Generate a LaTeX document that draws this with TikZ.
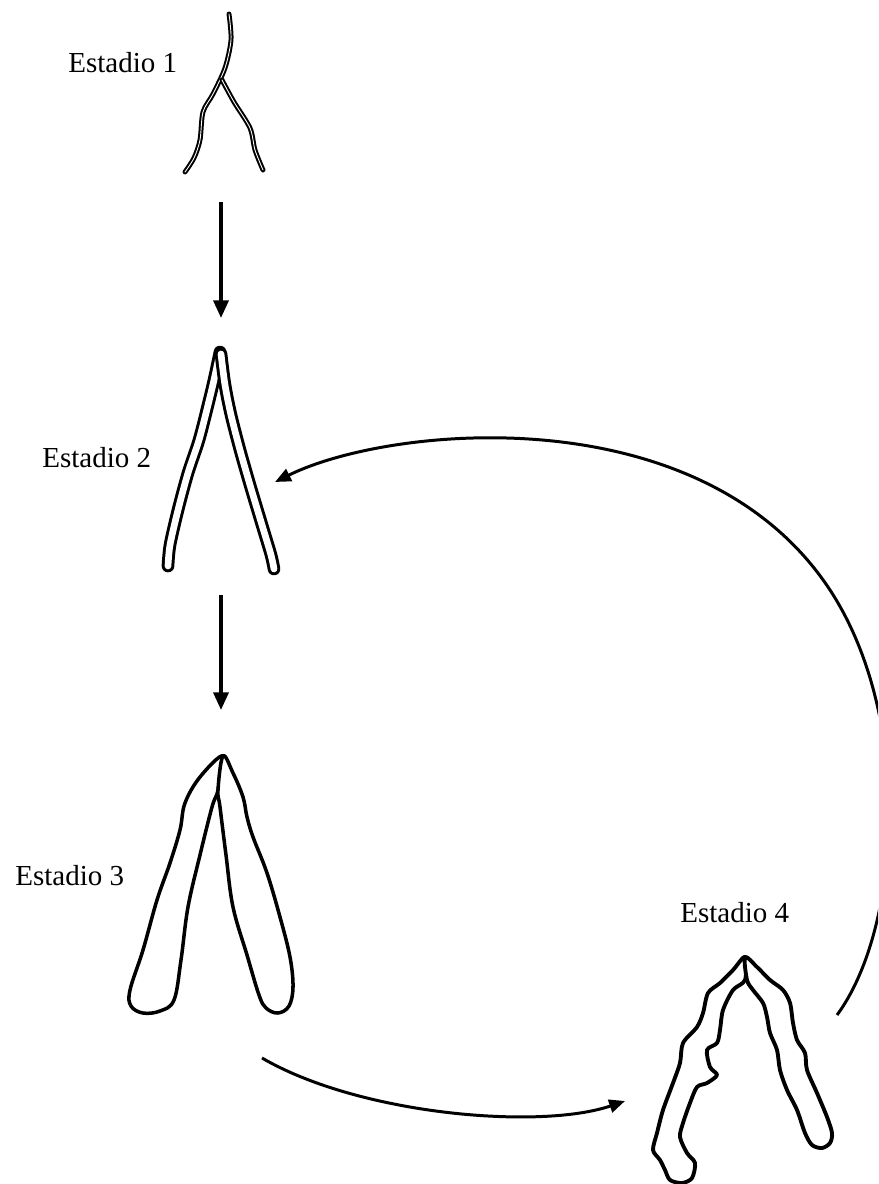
\documentclass[tikz,border=0pt]{standalone}
\usepackage{fontspec}
\setmainfont{Liberation Serif}
\usetikzlibrary{arrows,arrows.meta}

\tikzset{
  stage label/.style={font=\fontsize{16.5}{19}\selectfont, inner sep=0pt, anchor=base west},
  thin tube/.style={draw=black, line width=1.15pt, double=white, double distance=0.5pt, line cap=round, line join=round},
  tube/.style={draw=black, line width=1.7pt, double=white, double distance=3.8pt, line cap=round, line join=round},
  arm/.style={draw=black, line width=2pt, fill=white, line join=round},
  stage arrow/.style={line width=2pt, -{Triangle[length=10pt,width=8.5pt]}},
  cycle arrow/.style={line width=1.7pt, -{Triangle[length=9pt,width=7.5pt]}},
}

\begin{document}
\begin{tikzpicture}[x=0.2mm, y=-0.2mm]
  \useasboundingbox (0,0) rectangle (878,1184);
  \clip (0,0) rectangle (878,1184);

  % labels
  \node[stage label] (lab1) at (68,73) {Estadio 1};
  \node[stage label] (lab2) at (42,467) {Estadio 2};
  \node[stage label] (lab3) at (15,885) {Estadio 3};
  \node[stage label] (lab4) at (680,922) {Estadio 4};

  % estadio 1
  \draw[thin tube] plot[smooth] coordinates {(229,14) (231,40) (225,68) (213,94) (203,112) (200,140) (194,158) (185,172)};
  \draw[thin tube] plot[smooth] coordinates {(222,80) (234,102) (250,128) (255,150) (263,170)};

  % estadio 2
  \draw[tube] plot[smooth] coordinates {(220,352) (214,380) (208,405) (199,440) (188,473) (178,510) (170,545) (168,566)};
  \draw[tube] plot[smooth] coordinates {(221,354) (225,385) (231,415) (240,450) (250,485) (262,525) (271,555) (274,569)};

  % estadio 3
  \draw[arm] plot[smooth cycle, tension=0.6] coordinates {(223,756) (200,777) (185,803) (180,830) (170,863) (157,900) (143,950) (130,990) (131,1006) (143,1013) (160,1011) (174,1000) (181,960) (188,907) (200,855) (212,807) (218,790)};
  \draw[arm] plot[smooth cycle, tension=0.6] coordinates {(223,756) (233,773) (243,797) (247,817) (253,837) (267,873) (280,917) (290,957) (293,987) (289,1006) (278,1013) (266,1008) (259,995) (247,955) (233,907) (226,855) (220,807) (218,790)};

  % estadio 4
  \draw[arm, line width=2.2pt] plot[smooth cycle, tension=0.5] coordinates {(745,957) (733,970) (720,983) (708,993) (703,1013) (697,1027) (683,1043) (680,1063) (673,1083) (663,1110) (657,1133) (653,1150) (660,1160) (665,1170) (670,1180) (682,1183) (692,1178) (695,1163) (687,1153) (680,1137) (683,1123) (690,1103) (697,1087) (707,1083) (717,1075) (710,1067) (707,1050) (717,1043) (720,1030) (723,1010) (733,990) (745,980)};
  \draw[arm, line width=2.2pt] plot[smooth cycle, tension=0.5] coordinates {(745,957) (757,967) (770,980) (783,990) (790,1003) (793,1023) (797,1040) (805,1053) (807,1070) (817,1093) (827,1117) (832,1133) (830,1143) (822,1148) (812,1145) (805,1133) (797,1110) (787,1090) (780,1070) (777,1050) (770,1033) (767,1017) (763,1003) (753,990) (747,980)};

  % arrows
  \coordinate (s1out) at (221,202);
  \coordinate (s2in) at (221,318);
  \coordinate (s2out) at (221,595);
  \coordinate (s3in) at (221,710);
  \coordinate (s3out) at (262,1058);
  \coordinate (s4in) at (625,1101);
  \coordinate (s4out) at (837,1015);
  \coordinate (s2back) at (275,482);

  \draw[stage arrow] (s1out) -- (s2in);
  \draw[stage arrow] (s2out) -- (s3in);
  \draw[cycle arrow] (s3out) .. controls (360,1115) and (540,1130) .. (s4in);
  \draw[cycle arrow] (s4out) .. controls (900,930) and (915,720) .. (830,590)
    .. controls (702,395) and (390,425) .. (s2back);
\end{tikzpicture}
\end{document}
